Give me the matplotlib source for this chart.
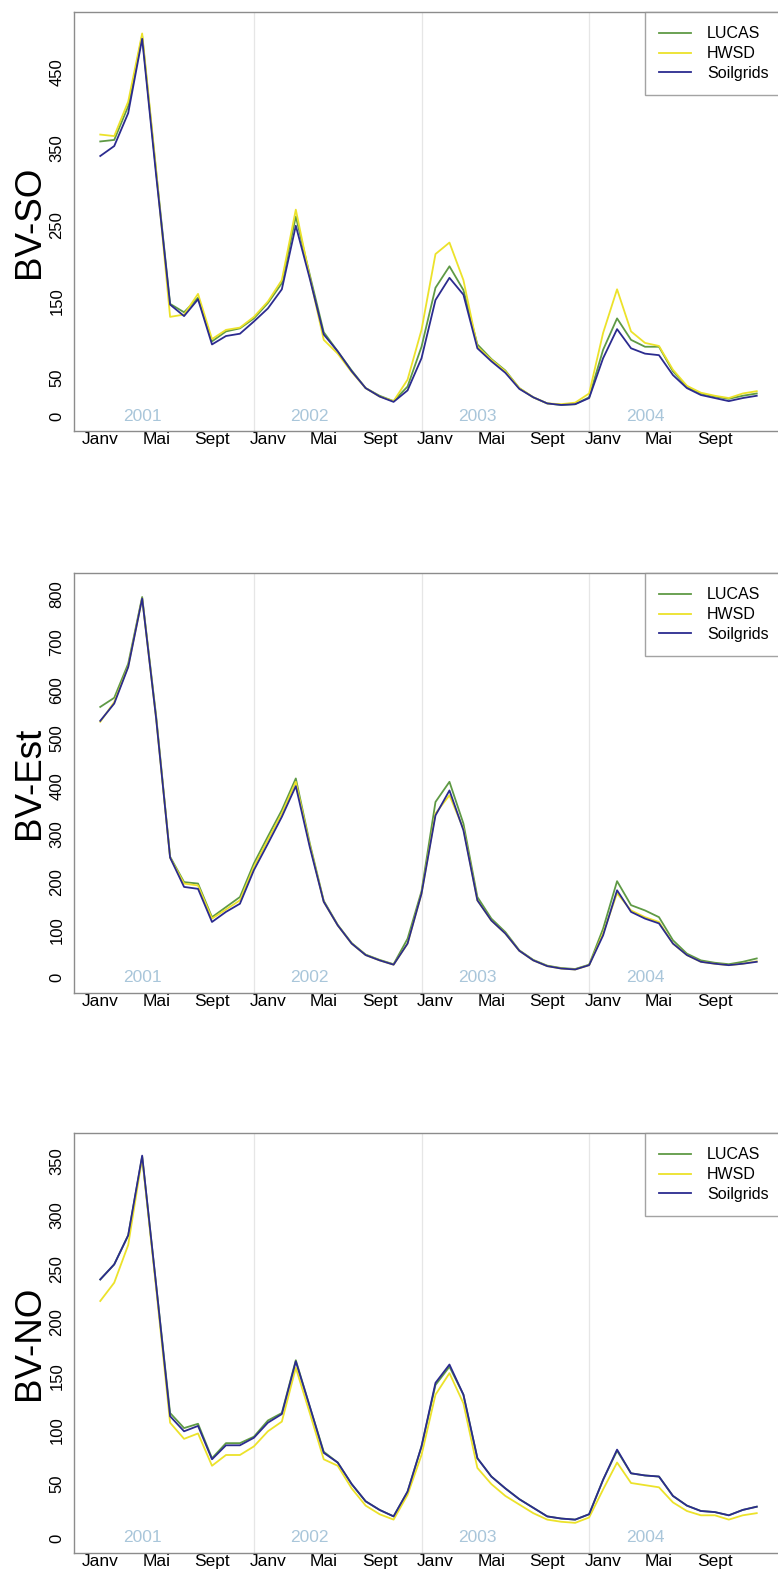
import numpy as np
import matplotlib.pyplot as plt

plt.rcParams['font.family'] = ['Liberation Sans', 'DejaVu Sans']

# mois 2001-2004 (48 valeurs par série)
mois = np.arange(48)
tick_labels = ["Janv", "Mai", "Sept"] * 4
annees = ["2001", "2002", "2003", "2004"]

# BV-SO
so_lucas = [359, 361, 405, 497, 320, 147, 136, 155, 98, 111, 115, 128,
            148, 174, 261, 185, 110, 85, 60, 37, 27, 20,
            39, 91, 168, 196, 165, 94, 75, 60, 37, 25, 17, 15, 16, 25,
            87, 128, 100, 91, 91, 59, 39, 30, 26, 23, 27, 30]
so_hwsd = [368, 366, 411, 500, 322, 130, 133, 160, 101, 113, 116, 130,
           150, 178, 270, 182, 100, 82, 58, 37, 26, 20,
           48, 113, 212, 227, 178, 91, 74, 59, 37, 25, 17, 16, 18, 30,
           109, 166, 111, 96, 92, 61, 40, 31, 27, 24, 30, 33]
so_soil = [340, 353, 396, 493, 315, 146, 131, 153, 94, 105, 108, 124,
           141, 166, 249, 180, 107, 85, 59, 37, 26, 19,
           34, 76, 152, 181, 159, 89, 72, 57, 36, 25, 17, 15, 16, 24,
           76, 114, 89, 82, 80, 54, 37, 28, 24, 20, 24, 27]

# BV-Est
est_lucas = [564, 583, 654, 793, 545, 252, 199, 196, 126, 147, 168, 238,
             294, 349, 415, 280, 160, 110, 72, 48, 37, 28,
             81, 180, 366, 408, 321, 168, 123, 95, 57, 37, 25, 20, 18, 27,
             102, 201, 151, 140, 126, 78, 50, 36, 31, 28, 33, 40]
est_hwsd = [533, 574, 648, 790, 540, 250, 196, 192, 123, 142, 161, 231,
            287, 342, 408, 276, 158, 109, 71, 47, 36, 27,
            71, 175, 342, 380, 310, 161, 119, 92, 56, 36, 24, 19, 17, 26,
            92, 176, 140, 126, 116, 71, 47, 33, 29, 26, 29, 34]
est_soil = [535, 571, 647, 790, 540, 250, 189, 185, 116, 137, 154, 224,
            279, 335, 399, 272, 158, 109, 71, 47, 36, 27,
            71, 175, 338, 390, 307, 161, 119, 92, 56, 36, 24, 19, 17, 26,
            88, 182, 137, 123, 113, 71, 47, 33, 29, 26, 29, 33]

# BV-NO
no_lucas = [240, 254, 281, 354, 235, 116, 102, 106, 74, 88, 88, 94,
            109, 116, 165, 122, 80, 70, 50, 34, 26, 20,
            43, 85, 142, 159, 133, 74, 57, 46, 36, 28, 20, 18, 17, 22,
            54, 81, 60, 58, 57, 39, 30, 25, 24, 21, 26, 29]
no_hwsd = [220, 237, 272, 353, 232, 107, 92, 97, 67, 77, 77, 85,
           99, 108, 158, 116, 73, 67, 46, 30, 22, 17,
           40, 77, 133, 153, 125, 65, 50, 39, 31, 23, 17, 15, 14, 19,
           45, 70, 51, 49, 47, 33, 25, 21, 21, 17, 21, 23]
no_soil = [240, 254, 281, 355, 235, 113, 99, 104, 73, 86, 86, 93,
           107, 115, 164, 122, 79, 70, 50, 34, 26, 20,
           43, 85, 144, 161, 133, 74, 57, 46, 36, 28, 20, 18, 17, 22,
           54, 82, 60, 58, 57, 39, 30, 25, 24, 21, 26, 29]

panels = [
    ("BV-SO", so_lucas, so_hwsd, so_soil, [0, 50, 150, 250, 350, 450], (-19, 528)),
    ("BV-Est", est_lucas, est_hwsd, est_soil, list(range(0, 801, 100)), (-32, 843)),
    ("BV-NO", no_lucas, no_hwsd, no_soil, list(range(0, 351, 50)), (-14, 376)),
]

c_lucas = "#5f9a45"
c_hwsd = "#ece22a"
c_soil = "#2b2b8f"

W, H = 778, 1574
fig = plt.figure(figsize=(W / 100, H / 100), dpi=100)

# boites des axes en pixels (haut, bas)
boxes = [(12, 431), (573, 993), (1133, 1553)]
x_left = 74
x_right = 783

for (nom, lucas, hwsd, soil, yticks, ylim), (top, bot) in zip(panels, boxes):
    ax = fig.add_axes([x_left / W, 1 - bot / H, (x_right - x_left) / W, (bot - top) / H])
    for v in [11, 23, 35]:
        ax.axvline(v, color="#e6e6e6", lw=0.9, zorder=0)
    ax.plot(mois, lucas, color=c_lucas, lw=1.3, label="LUCAS")
    ax.plot(mois, hwsd, color=c_hwsd, lw=1.3, label="HWSD")
    ax.plot(mois, soil, color=c_soil, lw=1.3, label="Soilgrids")
    for k, a in enumerate(annees):
        ax.text(3 + 12 * k, 0, a, color="#a9c6da", fontsize=12.5,
                ha="center", va="center")
    ax.set_xlim(-1.88, 48.88)
    ax.set_ylim(*ylim)
    ax.set_xticks(np.arange(0, 48, 4))
    ax.set_xticklabels(tick_labels, fontsize=12.5)
    ax.set_yticks(yticks)
    ax.set_yticklabels([str(t) for t in yticks], fontsize=12, rotation=90, va="center")
    ax.tick_params(axis="x", length=0, pad=1)
    ax.tick_params(axis="y", length=0, pad=7)
    for s in ax.spines.values():
        s.set_color("#8c8c8c")
        s.set_linewidth(1)
    ax.set_ylabel(nom, fontsize=26.5)
    ax.yaxis.label.set_va("center")
    ax.yaxis.set_label_coords((29 - x_left) / (x_right - x_left), 0.5)
    leg = ax.legend(loc="upper right", fontsize=11.5, frameon=True, fancybox=False,
                    borderaxespad=0, handlelength=2.0, handletextpad=1.0,
                    labelspacing=0.3, borderpad=0.9)
    leg.get_frame().set_edgecolor("#8c8c8c")
    leg.get_frame().set_linewidth(1)

fig.savefig("out.png", dpi=100)
